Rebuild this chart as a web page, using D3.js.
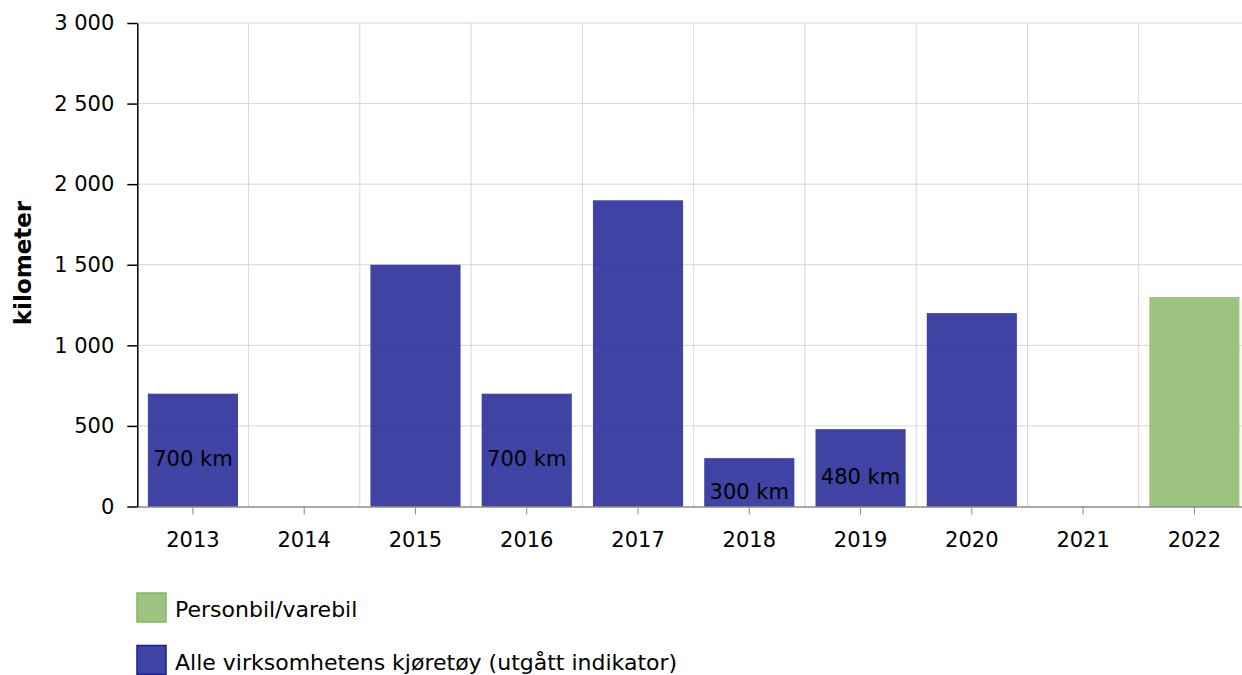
<!DOCTYPE html>
<html><head><meta charset="utf-8">
<script src="https://cdn.jsdelivr.net/npm/d3@7"></script>
<style>body{margin:0;background:#fff}svg{display:block;font-family:"DejaVu Sans",Verdana,sans-serif}</style>
</head><body><svg id="c" width="1242" height="675"></svg>
<script>
const years = ["2013","2014","2015","2016","2017","2018","2019","2020","2021","2022"];
const allVehicles = [700, null, 1500, 700, 1900, 300, 480, 1200, null, null];
const personbil = [null, null, null, null, null, null, null, null, null, 1300];
const barLabels = ["700 km", null, null, "700 km", null, "300 km", "480 km", null, null, null];
const yTicks = [0, 500, 1000, 1500, 2000, 2500, 3000];
const seriesNames = ["Personbil/varebil", "Alle virksomhetens kjøretøy (utgått indikator)"];
const seriesColors = ["#91bd71", "#2a2f99"];
const seriesStroke = ["#7fb862", "#1a1f8c"];

const svg = d3.select("#c");
const x = d3.scaleBand().domain(years).range([137.3, 1250]).paddingInner(0.19).paddingOuter(0.095);
const y = d3.scaleLinear().domain([0, 3000]).range([506.5, 23]);
const step = x.step();
const fmt = v => d3.format(",")(v).replace(/,/g, " ");

// grid
const g = svg.append("g");
g.selectAll(".hg").data(yTicks.filter(t => t > 0)).join("line")
  .attr("x1", 137.3).attr("x2", 1242).attr("y1", d => y(d)).attr("y2", d => y(d))
  .attr("stroke", "#d6d6d6").attr("stroke-width", 1);
g.selectAll(".vg").data(years.slice(1)).join("line")
  .attr("x1", d => x(d) - (step - x.bandwidth()) / 2).attr("x2", d => x(d) - (step - x.bandwidth()) / 2)
  .attr("y1", y(3000)).attr("y2", y(0))
  .attr("stroke", "#d6d6d6").attr("stroke-width", 1);

// bars
const bars = svg.append("g");
bars.selectAll(".b1").data(years.map((yr, i) => ({yr, v: allVehicles[i]})).filter(d => d.v != null)).join("rect")
  .attr("x", d => x(d.yr)).attr("width", x.bandwidth())
  .attr("y", d => y(d.v)).attr("height", d => y(0) - y(d.v))
  .attr("fill", seriesColors[1]).attr("fill-opacity", 0.9);
bars.selectAll(".b2").data(years.map((yr, i) => ({yr, v: personbil[i]})).filter(d => d.v != null)).join("rect")
  .attr("x", d => x(d.yr)).attr("width", x.bandwidth())
  .attr("y", d => y(d.v)).attr("height", d => y(0) - y(d.v))
  .attr("fill", seriesColors[0]).attr("fill-opacity", 0.9);

// bar labels
svg.append("g").selectAll("text").data(years.map((yr, i) => ({yr, v: allVehicles[i], t: barLabels[i]})).filter(d => d.t))
  .join("text")
  .attr("x", d => x(d.yr) + x.bandwidth() / 2)
  .attr("y", d => y(d.v / 2) + 9)
  .attr("dy", "0.35em")
  .attr("text-anchor", "middle").attr("font-size", 21).attr("fill", "#000")
  .text(d => d.t);

// x axis
const xa = svg.append("g").attr("transform", `translate(0,${y(0)})`)
  .call(d3.axisBottom(x).tickSize(8).tickPadding(18).tickSizeOuter(0));
xa.select(".domain").attr("stroke", "#555").attr("d", `M137.3,0.5H1242`);
xa.selectAll(".tick line").attr("stroke", "#888");
xa.selectAll(".tick text").attr("font-size", 21).attr("fill", "#000").attr("font-family", "DejaVu Sans");

// y axis
const ya = svg.append("g").attr("transform", `translate(137.3,0)`)
  .call(d3.axisLeft(y).tickValues(yTicks).tickFormat(fmt).tickSize(10).tickPadding(13).tickSizeOuter(0));
ya.select(".domain").attr("stroke", "#000").attr("stroke-width", 1.5);
ya.selectAll(".tick line").attr("stroke", "#000").attr("stroke-width", 1.5);
ya.selectAll(".tick text").attr("font-size", 21).attr("fill", "#000").attr("font-family", "DejaVu Sans");

svg.append("text").attr("transform", "translate(31,263) rotate(-90)")
  .attr("text-anchor", "middle").attr("font-size", 23).attr("font-weight", "bold").text("kilometer");

// legend
const leg = svg.append("g");
seriesNames.forEach((n, i) => {
  const ly = 593 + i * 52.5;
  leg.append("rect").attr("x", 137).attr("y", ly).attr("width", 29).attr("height", 29)
    .attr("fill", seriesColors[i]).attr("fill-opacity", 0.9).attr("stroke", seriesStroke[i]).attr("stroke-width", 1.5);
  leg.append("text").attr("x", 175).attr("y", ly + 24)
    .attr("font-size", 22).attr("fill", "#000").text(n);
});
</script></body></html>
